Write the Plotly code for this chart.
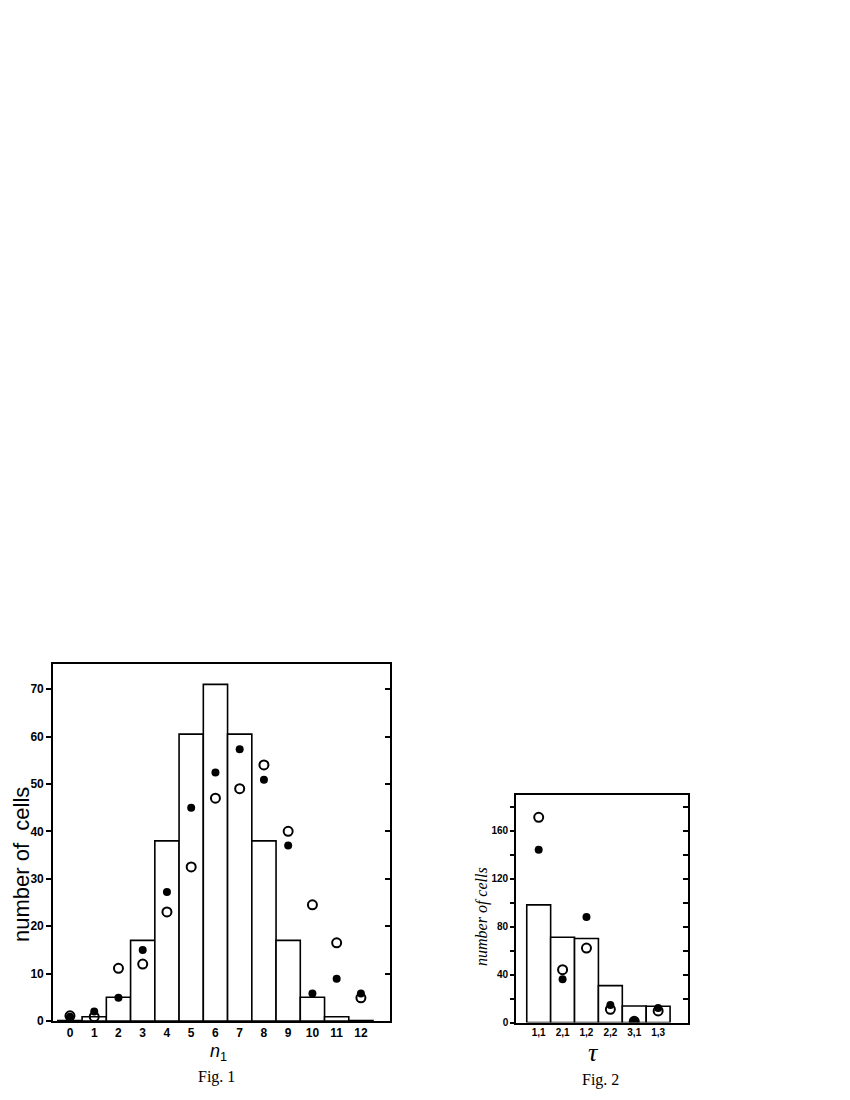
import plotly.graph_objects as go

# --- Fig. 1 data ---
n1 = list(range(13))
n1_labels = [str(i) for i in n1]
fig1_bars = [0.1, 0.9, 5, 17, 38, 60.5, 71, 60.5, 38, 17, 5, 0.9, 0.1]
fig1_open = [1.1, 0.9, 11.1, 12, 23, 32.5, 47, 49, 54, 40, 24.5, 16.5, 4.9]
fig1_filled = [0.9, 2, 4.9, 15, 27.2, 45, 52.4, 57.3, 50.9, 37, 5.8, 8.9, 5.8]

# --- Fig. 2 data ---
tau_labels = ["1,1", "2,1", "1,2", "2,2", "3,1", "1,3"]
tau_pos = list(range(len(tau_labels)))
fig2_bars = [98, 71, 70, 30.7, 13.7, 13.5]
fig2_open = [171, 44, 62, 11, 1, 9.6]
fig2_filled = [144, 36, 88, 14.5, 1, 12]

W, H = 850, 1100
PAGE_OFFSET = 8  # default body margin of the html page


def px_x(p):
    return (p - PAGE_OFFSET) / W


def px_y(p):
    return 1 - (p - PAGE_OFFSET) / H


fig = go.Figure()

bar_style = dict(marker=dict(color="white", line=dict(color="black", width=1.6)),
                 width=1.0, showlegend=False)
open_style = dict(mode="markers", showlegend=False,
                  marker=dict(symbol="circle-open", size=9, color="black", line=dict(width=2)))
filled_style = dict(mode="markers", showlegend=False,
                    marker=dict(symbol="circle", size=8, color="black"))

# Fig. 1 traces
fig.add_trace(go.Bar(x=n1, y=fig1_bars, xaxis="x", yaxis="y", **bar_style))
fig.add_trace(go.Scatter(x=n1, y=fig1_filled, xaxis="x", yaxis="y", **filled_style))
fig.add_trace(go.Scatter(x=n1, y=fig1_open, xaxis="x", yaxis="y", **open_style))

# Fig. 2 traces
fig.add_trace(go.Bar(x=tau_pos, y=fig2_bars, xaxis="x2", yaxis="y2", **bar_style))
fig.add_trace(go.Scatter(x=tau_pos, y=fig2_filled, xaxis="x2", yaxis="y2", **filled_style))
fig.add_trace(go.Scatter(x=tau_pos, y=fig2_open, xaxis="x2", yaxis="y2", **open_style))

tick_font = dict(family="Liberation Sans, Arial", size=12, color="black", weight="bold")
tick_font2 = dict(family="Liberation Sans, Arial", size=10, color="black", weight="bold")

line_kw = dict(showline=True, linecolor="black", linewidth=1.6, showgrid=False,
               zeroline=False, automargin=False)

fig.update_layout(
    width=W, height=H,
    margin=dict(l=0, r=0, t=0, b=0, autoexpand=False),
    paper_bgcolor="white", plot_bgcolor="white",
    barmode="overlay",
    # Fig. 1 axes
    xaxis=dict(domain=[px_x(53), px_x(390)], range=[-0.7, 13.2], anchor="y",
               tickvals=n1, ticktext=n1_labels, ticks="", tickfont=tick_font,
               mirror=True, **line_kw),
    yaxis=dict(domain=[px_y(1021), px_y(664)], range=[0, 75.3], anchor="x",
               dtick=10, ticks="outside", ticklen=5, tickwidth=1.5, tickcolor="black",
               tickfont=tick_font, mirror=True, **line_kw),
    yaxis3=dict(overlaying="y", side="right", matches="y", anchor="x",
                showline=False, showgrid=False, zeroline=False, dtick=10,
                ticks="inside", ticklen=5, tickwidth=1.5, tickcolor="black",
                showticklabels=False, automargin=False),
    # Fig. 2 axes
    xaxis2=dict(domain=[px_x(516), px_x(688)], range=[-0.95, 6.25], anchor="y2",
                tickvals=tau_pos, ticktext=tau_labels, ticks="", tickfont=tick_font2,
                mirror=True, **line_kw),
    yaxis2=dict(domain=[px_y(1022.5), px_y(795)], range=[0, 189.6], anchor="x2",
                dtick=40, ticks="outside", ticklen=4, tickwidth=1.5, tickcolor="black",
                minor=dict(dtick=20, ticks="outside", ticklen=4, tickwidth=1.5,
                           tickcolor="black"),
                tickfont=tick_font2, mirror=True, **line_kw),
    yaxis4=dict(overlaying="y2", side="right", matches="y2", anchor="x2",
                showline=False, showgrid=False, zeroline=False, dtick=20,
                ticks="inside", ticklen=5, tickwidth=1.5, tickcolor="black",
                showticklabels=False, automargin=False),
)

# dummy traces so the right-side tick axes are drawn
fig.add_trace(go.Scatter(x=[None], y=[None], xaxis="x", yaxis="y3", showlegend=False))
fig.add_trace(go.Scatter(x=[None], y=[None], xaxis="x2", yaxis="y4", showlegend=False))

annotations = [
    dict(text="number of\u00a0\u00a0cells", x=px_x(21), y=px_y(865), textangle=-90,
         font=dict(family="Liberation Sans, Arial", size=22, color="black")),
    dict(text="<i>n</i><sub>1</sub>", x=px_x(218), y=px_y(1052),
         font=dict(family="Liberation Sans, Arial", size=18, color="black")),
    dict(text="Fig. 1", x=px_x(216), y=px_y(1077),
         font=dict(family="Liberation Serif, Times New Roman", size=16, color="black")),
    dict(text="<i>number of cells</i>", x=px_x(482), y=px_y(917), textangle=-90,
         font=dict(family="Liberation Serif, Times New Roman", size=16, color="black")),
    dict(text="<i>τ</i>", x=px_x(593), y=px_y(1052),
         font=dict(family="Liberation Serif, Times New Roman", size=26, color="black")),
    dict(text="Fig. 2", x=px_x(600), y=px_y(1080),
         font=dict(family="Liberation Serif, Times New Roman", size=16, color="black")),
]
for a in annotations:
    fig.add_annotation(xref="paper", yref="paper", showarrow=False, borderpad=0,
                       xanchor="center", yanchor="middle", **a)

fig.write_html("out.html")
